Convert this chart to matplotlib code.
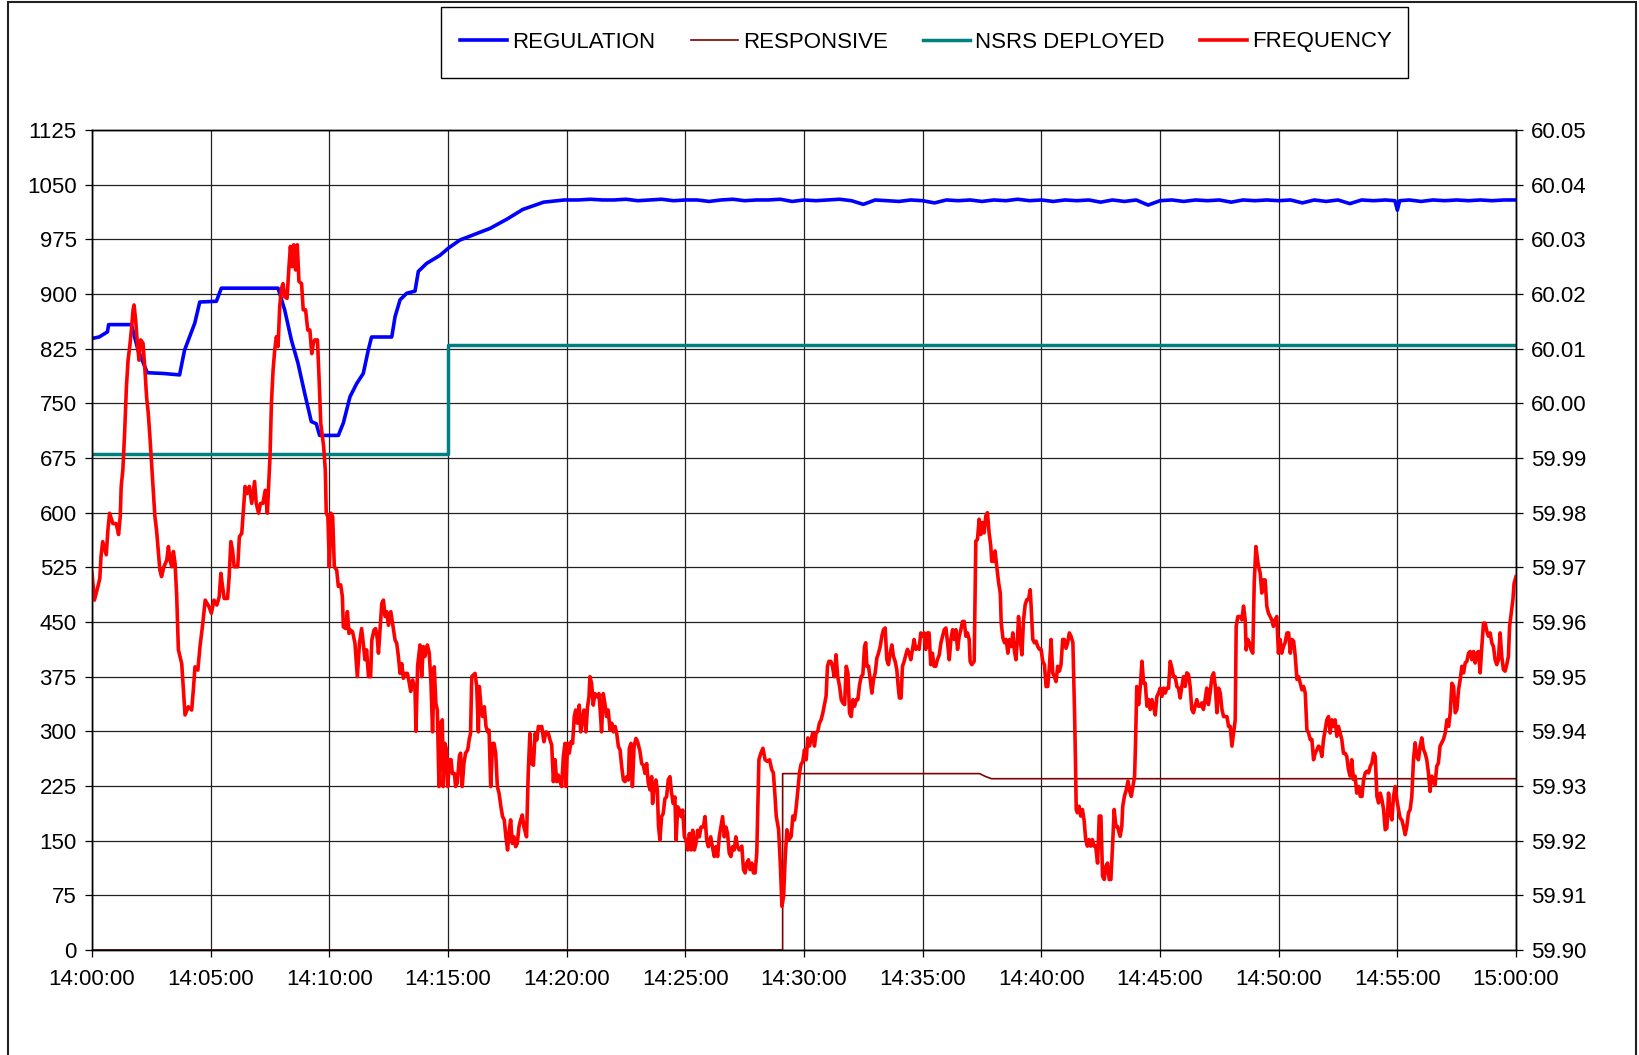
import matplotlib
matplotlib.use("Agg")
import matplotlib.pyplot as plt
from matplotlib.patches import Rectangle
from matplotlib.lines import Line2D

plt.rcParams["font.family"] = ["Liberation Sans", "DejaVu Sans"]

# minutes after 14:00
x_ticks = [0, 5, 10, 15, 20, 25, 30, 35, 40, 45, 50, 55, 60]
x_labels = ["14:00:00", "14:05:00", "14:10:00", "14:15:00", "14:20:00", "14:25:00", "14:30:00",
            "14:35:00", "14:40:00", "14:45:00", "14:50:00", "14:55:00", "15:00:00"]
mw_ticks = list(range(0, 1126, 75))
hz_ticks = [59.90, 59.91, 59.92, 59.93, 59.94, 59.95, 59.96, 59.97, 59.98, 59.99,
            60.00, 60.01, 60.02, 60.03, 60.04, 60.05]

# REGULATION (MW)
reg_t = [0, 0.3, 0.5, 0.65, 0.7, 1.66, 1.94, 2.33, 3.0, 3.69, 3.9, 4.33, 4.54, 5.24, 5.45, 7.84,
         8.12, 8.4, 8.68, 8.96, 9.24, 9.45, 9.59, 10.38, 10.59, 10.87, 11.15, 11.43, 11.64, 11.78,
         12.63, 12.77, 12.98, 13.26, 13.61, 13.75, 14.1, 14.66, 15.02, 15.5, 16.21, 16.77, 17.5,
         18.15, 19.03, 19.9, 20.5, 21, 21.5, 22, 22.5, 23, 23.5, 24, 24.5, 25, 25.5, 26, 26.5, 27,
         27.5, 28, 28.5, 29, 29.5, 30, 30.5, 31, 31.5, 32, 32.5, 33, 33.5, 34, 34.5, 35, 35.5, 36,
         36.5, 37, 37.5, 38, 38.5, 39, 39.5, 40, 40.5, 41, 41.5, 42, 42.5, 43, 43.5, 44, 44.5, 45,
         45.5, 46, 46.5, 47, 47.5, 48, 48.5, 49, 49.5, 50, 50.5, 51, 51.5, 52, 52.5, 53, 53.5, 54,
         54.5, 54.9, 55.0, 55.1, 55.5, 56, 56.5, 57, 57.5, 58, 58.5, 59, 59.5, 60]
reg_mw = [839, 841, 845, 848, 858, 858, 823, 792, 791, 789, 823, 860, 889, 890, 908, 908,
          878, 837, 805, 764, 725, 722, 706, 706, 723, 759, 777, 791, 823, 841,
          841, 869, 892, 901, 904, 931, 942, 953, 963, 974, 983, 990, 1003,
          1016, 1026, 1029, 1029, 1030, 1029, 1029, 1030, 1028, 1029, 1030, 1028, 1029, 1029, 1027, 1029, 1030,
          1028, 1029, 1029, 1030, 1027, 1029, 1028, 1029, 1030, 1028, 1023, 1029, 1028, 1027, 1029, 1028, 1025, 1029,
          1028, 1029, 1027, 1029, 1028, 1030, 1028, 1029, 1027, 1029, 1028, 1029, 1026, 1029, 1027, 1029, 1022, 1028,
          1029, 1027, 1029, 1028, 1029, 1026, 1029, 1028, 1029, 1028, 1029, 1025, 1029, 1027, 1029, 1024, 1029, 1028,
          1029, 1028, 1015, 1028, 1029, 1027, 1029, 1028, 1029, 1028, 1029, 1028, 1029, 1029]

# RESPONSIVE (MW)
resp_t = [0, 29.1, 29.1, 37.4, 37.65, 37.9, 60]
resp_mw = [0, 0, 242, 242, 238, 235, 235]

# NSRS DEPLOYED (MW)
nsrs_t = [0, 15.02, 15.02, 60]
nsrs_mw = [680, 680, 830, 830]

# FREQUENCY (Hz)
freq_t = [
    0.00, 0.10, 0.25, 0.33, 0.38, 0.45, 0.60, 0.67, 0.74, 0.88, 1.02, 1.12, 1.19, 1.23, 1.30, 1.38,
    1.45, 1.52, 1.59, 1.66, 1.73, 1.77, 1.84, 1.90, 1.98, 2.05, 2.15, 2.23, 2.30, 2.37, 2.44, 2.51,
    2.58, 2.65, 2.72, 2.79, 2.86, 2.93, 3.03, 3.15, 3.22, 3.29, 3.36, 3.43, 3.50, 3.57, 3.64, 3.78,
    3.85, 3.92, 4.06, 4.20, 4.27, 4.34, 4.46, 4.55, 4.67, 4.77, 4.93, 5.03, 5.14, 5.26, 5.36, 5.43,
    5.50, 5.57, 5.71, 5.78, 5.85, 5.92, 5.99, 6.14, 6.21, 6.31, 6.38, 6.45, 6.53, 6.63, 6.73, 6.85,
    6.92, 7.02, 7.10, 7.20, 7.30, 7.39, 7.44, 7.50, 7.56, 7.63, 7.70, 7.77, 7.84, 7.91, 7.98, 8.05,
    8.12, 8.22, 8.29, 8.36, 8.43, 8.50, 8.58, 8.65, 8.72, 8.83, 8.90, 9.00, 9.09, 9.18, 9.26, 9.33,
    9.39, 9.50, 9.57, 9.64, 9.76, 9.83, 9.87, 9.94, 10.00, 10.07, 10.14, 10.21, 10.31, 10.38, 10.48,
    10.55, 10.59, 10.69, 10.76, 10.83, 10.90, 10.98, 11.08, 11.18, 11.27, 11.36, 11.43, 11.50, 11.57,
    11.65, 11.74, 11.79, 11.88, 11.95, 12.02, 12.07, 12.14, 12.21, 12.28, 12.35, 12.42, 12.49, 12.59,
    12.70, 12.77, 12.84, 12.91, 12.98, 13.05, 13.12, 13.19, 13.29, 13.37, 13.43, 13.51, 13.61, 13.65,
    13.72, 13.82, 13.89, 13.96, 14.03, 14.13, 14.21, 14.28, 14.35, 14.42, 14.49, 14.55, 14.62, 14.69,
    14.76, 14.80, 14.87, 14.94, 14.99, 15.06, 15.13, 15.18, 15.27, 15.32, 15.39, 15.48, 15.53, 15.60,
    15.67, 15.74, 15.83, 15.90, 15.95, 16.00, 16.07, 16.14, 16.21, 16.28, 16.32, 16.39, 16.46, 16.53,
    16.60, 16.67, 16.73, 16.80, 16.88, 16.94, 17.01, 17.08, 17.15, 17.23, 17.30, 17.37, 17.44, 17.51,
    17.58, 17.64, 17.71, 17.78, 17.85, 17.92, 17.99, 18.06, 18.13, 18.20, 18.31, 18.38, 18.45, 18.52,
    18.60, 18.67, 18.74, 18.81, 18.88, 18.95, 19.04, 19.13, 19.23, 19.30, 19.37, 19.44, 19.51, 19.58,
    19.65, 19.72, 19.79, 19.86, 19.93, 19.97, 20.04, 20.11, 20.18, 20.25, 20.32, 20.38, 20.45, 20.53,
    20.59, 20.66, 20.73, 20.81, 20.88, 20.94, 20.98, 21.05, 21.12, 21.19, 21.29, 21.36, 21.43, 21.47,
    21.54, 21.61, 21.68, 21.75, 21.83, 21.90, 21.97, 22.04, 22.11, 22.18, 22.25, 22.32, 22.39, 22.46,
    22.53, 22.60, 22.64, 22.71, 22.77, 22.84, 22.92, 22.99, 23.09, 23.16, 23.23, 23.30, 23.37, 23.44,
    23.51, 23.58, 23.62, 23.69, 23.76, 23.82, 23.87, 23.93, 24.00, 24.07, 24.14, 24.21, 24.28, 24.35,
    24.42, 24.49, 24.56, 24.61, 24.68, 24.75, 24.82, 24.89, 24.96, 25.03, 25.10, 25.17, 25.24, 25.31,
    25.38, 25.45, 25.52, 25.59, 25.66, 25.76, 25.83, 25.90, 25.97, 26.07, 26.14, 26.22, 26.29, 26.36,
    26.43, 26.50, 26.57, 26.64, 26.71, 26.78, 26.85, 26.92, 26.99, 27.06, 27.13, 27.20, 27.27, 27.38,
    27.45, 27.52, 27.59, 27.66, 27.73, 27.80, 27.87, 27.94, 28.01, 28.05, 28.10, 28.18, 28.27, 28.36,
    28.46, 28.55, 28.64, 28.71, 28.78, 28.83, 28.93, 29.00, 29.07, 29.14, 29.21, 29.28, 29.37, 29.46,
    29.53, 29.60, 29.66, 29.73, 29.81, 29.87, 29.95, 30.02, 30.09, 30.16, 30.23, 30.30, 30.37, 30.44,
    30.51, 30.58, 30.65, 30.72, 30.79, 30.86, 30.93, 30.99, 31.05, 31.13, 31.20, 31.27, 31.35, 31.42,
    31.50, 31.57, 31.64, 31.71, 31.78, 31.85, 31.92, 31.99, 32.06, 32.13, 32.20, 32.27, 32.34, 32.41,
    32.48, 32.55, 32.60, 32.65, 32.72, 32.79, 32.86, 32.93, 33.00, 33.07, 33.14, 33.21, 33.28, 33.35,
    33.42, 33.49, 33.56, 33.63, 33.70, 33.77, 33.84, 33.91, 33.97, 34.02, 34.09, 34.15, 34.22, 34.29,
    34.36, 34.43, 34.50, 34.57, 34.64, 34.71, 34.78, 34.85, 34.92, 34.99, 35.06, 35.13, 35.20, 35.27,
    35.34, 35.41, 35.48, 35.55, 35.62, 35.70, 35.77, 35.84, 35.91, 35.98, 36.05, 36.12, 36.19, 36.26,
    36.33, 36.40, 36.47, 36.54, 36.61, 36.68, 36.75, 36.82, 36.89, 36.96, 37.00, 37.07, 37.17, 37.24,
    37.31, 37.38, 37.45, 37.52, 37.59, 37.66, 37.73, 37.80, 37.87, 37.91, 37.98, 38.05, 38.12, 38.20,
    38.27, 38.31, 38.38, 38.45, 38.52, 38.59, 38.66, 38.73, 38.80, 38.87, 38.93, 39.00, 39.04, 39.11,
    39.18, 39.25, 39.32, 39.39, 39.46, 39.53, 39.57, 39.64, 39.71, 39.78, 39.85, 39.92, 39.99, 40.06,
    40.13, 40.20, 40.27, 40.34, 40.41, 40.48, 40.55, 40.62, 40.69, 40.76, 40.83, 40.90, 40.97, 41.04,
    41.11, 41.18, 41.25, 41.33, 41.40, 41.44, 41.47, 41.52, 41.59, 41.66, 41.73, 41.80, 41.87, 41.94,
    42.01, 42.08, 42.15, 42.22, 42.29, 42.37, 42.44, 42.51, 42.58, 42.65, 42.72, 42.79, 42.86, 42.93,
    43.00, 43.07, 43.14, 43.21, 43.28, 43.32, 43.39, 43.43, 43.50, 43.58, 43.65, 43.72, 43.79, 43.86,
    43.93, 43.97, 44.02, 44.10, 44.17, 44.24, 44.31, 44.38, 44.45, 44.52, 44.59, 44.66, 44.73, 44.80,
    44.87, 44.94, 45.01, 45.08, 45.15, 45.22, 45.29, 45.36, 45.43, 45.50, 45.57, 45.64, 45.71, 45.78,
    45.85, 45.92, 45.99, 46.06, 46.13, 46.20, 46.27, 46.34, 46.41, 46.48, 46.55, 46.62, 46.69, 46.76,
    46.83, 46.90, 46.97, 47.04, 47.11, 47.19, 47.26, 47.33, 47.40, 47.47, 47.54, 47.61, 47.68, 47.75,
    47.82, 47.89, 47.96, 48.03, 48.10, 48.17, 48.21, 48.28, 48.38, 48.45, 48.52, 48.59, 48.63, 48.70,
    48.77, 48.84, 48.91, 48.97, 49.04, 49.11, 49.15, 49.22, 49.29, 49.36, 49.43, 49.50, 49.57, 49.64,
    49.71, 49.78, 49.85, 49.92, 49.99, 50.06, 50.13, 50.20, 50.27, 50.35, 50.42, 50.49, 50.56, 50.63,
    50.70, 50.77, 50.84, 50.91, 50.98, 51.05, 51.12, 51.19, 51.26, 51.33, 51.40, 51.47, 51.54, 51.61,
    51.68, 51.75, 51.82, 51.89, 51.96, 52.03, 52.10, 52.17, 52.24, 52.31, 52.38, 52.45, 52.52, 52.59,
    52.66, 52.73, 52.80, 52.87, 52.94, 53.01, 53.08, 53.15, 53.22, 53.29, 53.37, 53.44, 53.51, 53.58,
    53.65, 53.72, 53.79, 53.86, 53.93, 54.00, 54.07, 54.14, 54.21, 54.28, 54.35, 54.42, 54.49, 54.56,
    54.63, 54.70, 54.77, 54.84, 54.91, 54.98, 55.05, 55.12, 55.19, 55.26, 55.33, 55.40, 55.47, 55.54,
    55.61, 55.68, 55.75, 55.82, 55.89, 55.96, 56.03, 56.10, 56.17, 56.24, 56.31, 56.38, 56.45, 56.52,
    56.59, 56.66, 56.73, 56.80, 56.87, 56.94, 57.02, 57.09, 57.16, 57.23, 57.30, 57.37, 57.44, 57.51,
    57.58, 57.65, 57.72, 57.79, 57.86, 57.93, 58.00, 58.07, 58.14, 58.21, 58.28, 58.35, 58.42, 58.49,
    58.56, 58.63, 58.70, 58.77, 58.84, 58.91, 58.98, 59.05, 59.12, 59.19, 59.26, 59.33, 59.40, 59.47,
    59.54, 59.61, 59.68, 59.73, 59.80, 59.87, 59.92, 60.00]
freq_hz = [
    59.9690, 59.9640, 59.9665, 59.9680, 59.9720, 59.9747, 59.9723, 59.9768, 59.9799, 59.9780, 59.9780, 59.9760, 59.9793, 59.9848, 59.9878, 59.9951,
    60.0030, 60.0079, 60.0104, 60.0134, 60.0171, 60.0180, 60.0152, 60.0116, 60.0079, 60.0116, 60.0110, 60.0061, 60.0012, 59.9982, 59.9939, 59.9890,
    59.9841, 59.9793, 59.9768, 59.9732, 59.9695, 59.9683, 59.9701, 59.9713, 59.9738, 59.9713, 59.9701, 59.9729, 59.9707, 59.9646, 59.9549, 59.9524,
    59.9476, 59.9430, 59.9445, 59.9439, 59.9476, 59.9518, 59.9512, 59.9555, 59.9598, 59.9640, 59.9628, 59.9616, 59.9640, 59.9631, 59.9646, 59.9689,
    59.9665, 59.9643, 59.9643, 59.9683, 59.9747, 59.9732, 59.9701, 59.9701, 59.9756, 59.9762, 59.9805, 59.9848, 59.9835, 59.9848, 59.9817, 59.9857,
    59.9817, 59.9799, 59.9817, 59.9817, 59.9841, 59.9799, 59.9848, 59.9902, 60.0000, 60.0061, 60.0098, 60.0122, 60.0104, 60.0177, 60.0210, 60.0219,
    60.0195, 60.0192, 60.0244, 60.0287, 60.0250, 60.0290, 60.0244, 60.0290, 60.0223, 60.0219, 60.0171, 60.0171, 60.0134, 60.0134, 60.0091, 60.0110,
    60.0116, 60.0116, 60.0043, 59.9963, 59.9921, 59.9878, 59.9799, 59.9793, 59.9701, 59.9799, 59.9793, 59.9701, 59.9695, 59.9665, 59.9668,
    59.9646, 59.9591, 59.9588, 59.9619, 59.9579, 59.9585, 59.9582, 59.9561, 59.9500, 59.9561, 59.9588, 59.9561, 59.9531, 59.9549,
    59.9500, 59.9500, 59.9567, 59.9585, 59.9588, 59.9570, 59.9543, 59.9588, 59.9634, 59.9640, 59.9610, 59.9619, 59.9594, 59.9619,
    59.9588, 59.9567, 59.9561, 59.9537, 59.9506, 59.9524, 59.9497, 59.9506, 59.9506, 59.9488, 59.9473, 59.9494, 59.9476, 59.9400,
    59.9520, 59.9558, 59.9500, 59.9555, 59.9537, 59.9558, 59.9543, 59.9491, 59.9399, 59.9518, 59.9451, 59.9439, 59.9299, 59.9415,
    59.9421, 59.9299, 59.9378, 59.9366, 59.9299, 59.9348, 59.9348, 59.9323, 59.9323, 59.9299, 59.9305, 59.9354, 59.9360, 59.9299,
    59.9341, 59.9360, 59.9366, 59.9387, 59.9396, 59.9500, 59.9503, 59.9506, 59.9482, 59.9399, 59.9482, 59.9445, 59.9427, 59.9445,
    59.9409, 59.9399, 59.9402, 59.9299, 59.9378, 59.9378, 59.9360, 59.9299, 59.9287, 59.9262, 59.9244, 59.9238, 59.9207, 59.9183,
    59.9219, 59.9238, 59.9195, 59.9207, 59.9189, 59.9195, 59.9225, 59.9238, 59.9247, 59.9225, 59.9207, 59.9323, 59.9396, 59.9341,
    59.9338, 59.9396, 59.9384, 59.9409, 59.9406, 59.9409, 59.9381, 59.9399, 59.9396, 59.9384, 59.9375, 59.9308, 59.9348, 59.9308,
    59.9320, 59.9308, 59.9299, 59.9354, 59.9378, 59.9299, 59.9378, 59.9360, 59.9381, 59.9378, 59.9427, 59.9439, 59.9415, 59.9448,
    59.9399, 59.9421, 59.9439, 59.9399, 59.9445, 59.9463, 59.9500, 59.9488, 59.9448, 59.9469, 59.9463, 59.9469, 59.9427, 59.9399,
    59.9469, 59.9451, 59.9427, 59.9439, 59.9402, 59.9415, 59.9399, 59.9409, 59.9396, 59.9372, 59.9366, 59.9335, 59.9311, 59.9308,
    59.9317, 59.9311, 59.9369, 59.9378, 59.9299, 59.9372, 59.9387, 59.9381, 59.9363, 59.9341, 59.9338, 59.9323, 59.9341, 59.9305,
    59.9293, 59.9317, 59.9268, 59.9299, 59.9311, 59.9293, 59.9226, 59.9201, 59.9244, 59.9250, 59.9277, 59.9280, 59.9311, 59.9317,
    59.9287, 59.9268, 59.9280, 59.9201, 59.9262, 59.9256, 59.9244, 59.9256, 59.9207, 59.9201, 59.9183, 59.9213, 59.9183, 59.9219,
    59.9183, 59.9195, 59.9219, 59.9207, 59.9225, 59.9225, 59.9244, 59.9201, 59.9189, 59.9207, 59.9189, 59.9171, 59.9189, 59.9171,
    59.9207, 59.9225, 59.9244, 59.9207, 59.9225, 59.9213, 59.9177, 59.9171, 59.9189, 59.9183, 59.9207, 59.9189, 59.9183, 59.9190,
    59.9147, 59.9141, 59.9159, 59.9165, 59.9147, 59.9159, 59.9141, 59.9141, 59.9177, 59.9251, 59.9348, 59.9360, 59.9369, 59.9348,
    59.9345, 59.9348, 59.9330, 59.9324, 59.9281, 59.9245, 59.9220, 59.9159, 59.9080, 59.9098, 59.9171, 59.9220, 59.9202, 59.9208,
    59.9245, 59.9238, 59.9257, 59.9287, 59.9324, 59.9339, 59.9345, 59.9366, 59.9348, 59.9388, 59.9373, 59.9385, 59.9397, 59.9373,
    59.9397, 59.9400, 59.9415, 59.9421, 59.9433, 59.9449, 59.9464, 59.9519, 59.9528, 59.9528, 59.9519, 59.9500, 59.9540, 59.9500,
    59.9482, 59.9458, 59.9452, 59.9449, 59.9519, 59.9507, 59.9433, 59.9427, 59.9458, 59.9446, 59.9458, 59.9458, 59.9485, 59.9500,
    59.9504, 59.9555, 59.9562, 59.9519, 59.9519, 59.9495, 59.9470, 59.9495, 59.9507, 59.9534, 59.9543, 59.9555, 59.9574, 59.9586,
    59.9589, 59.9531, 59.9522, 59.9543, 59.9558, 59.9537, 59.9528, 59.9513, 59.9482, 59.9461, 59.9461, 59.9519, 59.9528, 59.9540,
    59.9550, 59.9543, 59.9531, 59.9550, 59.9568, 59.9550, 59.9555, 59.9550, 59.9580, 59.9574, 59.9580, 59.9550, 59.9580, 59.9580,
    59.9522, 59.9543, 59.9519, 59.9519, 59.9531, 59.9540, 59.9562, 59.9574, 59.9586, 59.9589, 59.9562, 59.9531, 59.9568, 59.9586,
    59.9568, 59.9586, 59.9550, 59.9574, 59.9586, 59.9601, 59.9601, 59.9574, 59.9580, 59.9568, 59.9528, 59.9522, 59.9528, 59.9748,
    59.9751, 59.9788, 59.9760, 59.9782, 59.9763, 59.9794, 59.9800, 59.9763, 59.9739, 59.9711, 59.9711, 59.9730, 59.9702, 59.9672,
    59.9653, 59.9598, 59.9571, 59.9562, 59.9568, 59.9543, 59.9568, 59.9555, 59.9580, 59.9546, 59.9531, 59.9574, 59.9610, 59.9568,
    59.9540, 59.9604, 59.9632, 59.9641, 59.9641, 59.9659, 59.9629, 59.9568, 59.9562, 59.9565, 59.9555, 59.9550, 59.9550, 59.9528,
    59.9522, 59.9482, 59.9482, 59.9519, 59.9568, 59.9507, 59.9500, 59.9491, 59.9519, 59.9510, 59.9522, 59.9568, 59.9568, 59.9552,
    59.9562, 59.9580, 59.9574, 59.9562, 59.9434, 59.9342, 59.9257, 59.9251, 59.9263, 59.9245, 59.9257, 59.9238, 59.9202, 59.9190,
    59.9202, 59.9190, 59.9202, 59.9190, 59.9190, 59.9159, 59.9245, 59.9245, 59.9135, 59.9129, 59.9153, 59.9159, 59.9129, 59.9129,
    59.9190, 59.9257, 59.9226, 59.9226, 59.9214, 59.9208, 59.9226, 59.9263, 59.9281, 59.9293, 59.9309, 59.9291, 59.9281, 59.9299,
    59.9318, 59.9379, 59.9482, 59.9449, 59.9482, 59.9528, 59.9488, 59.9488, 59.9446, 59.9458, 59.9440, 59.9458, 59.9446, 59.9430,
    59.9464, 59.9470, 59.9479, 59.9464, 59.9479, 59.9470, 59.9479, 59.9479, 59.9528, 59.9516, 59.9500, 59.9500, 59.9482, 59.9479,
    59.9461, 59.9482, 59.9500, 59.9482, 59.9507, 59.9504, 59.9482, 59.9440, 59.9434, 59.9446, 59.9458, 59.9446, 59.9446, 59.9452,
    59.9440, 59.9458, 59.9479, 59.9449, 59.9470, 59.9500, 59.9507, 59.9482, 59.9434, 59.9479, 59.9470, 59.9440, 59.9427, 59.9427,
    59.9427, 59.9409, 59.9409, 59.9373, 59.9397, 59.9421, 59.9592, 59.9610, 59.9610, 59.9604, 59.9629, 59.9604, 59.9549, 59.9568,
    59.9562, 59.9549, 59.9543, 59.9671, 59.9738, 59.9714, 59.9702, 59.9690, 59.9653, 59.9677, 59.9677, 59.9629, 59.9616, 59.9610,
    59.9604, 59.9592, 59.9604, 59.9610, 59.9543, 59.9568, 59.9543, 59.9555, 59.9562, 59.9580, 59.9580, 59.9543, 59.9568, 59.9565,
    59.9537, 59.9495, 59.9500, 59.9488, 59.9476, 59.9482, 59.9470, 59.9403, 59.9397, 59.9385, 59.9385, 59.9348, 59.9360, 59.9366,
    59.9373, 59.9370, 59.9354, 59.9385, 59.9403, 59.9421, 59.9427, 59.9397, 59.9421, 59.9409, 59.9421, 59.9391, 59.9409, 59.9397,
    59.9385, 59.9360, 59.9360, 59.9354, 59.9330, 59.9318, 59.9348, 59.9312, 59.9318, 59.9287, 59.9299, 59.9281, 59.9281, 59.9312,
    59.9324, 59.9327, 59.9324, 59.9336, 59.9342, 59.9360, 59.9354, 59.9281, 59.9269, 59.9287, 59.9275, 59.9257, 59.9220, 59.9223,
    59.9287, 59.9251, 59.9238, 59.9281, 59.9299, 59.9275, 59.9257, 59.9241, 59.9238, 59.9226, 59.9211, 59.9226, 59.9251, 59.9257,
    59.9281, 59.9348, 59.9379, 59.9354, 59.9348, 59.9373, 59.9388, 59.9367, 59.9360, 59.9348, 59.9324, 59.9290, 59.9318, 59.9312,
    59.9302, 59.9336, 59.9342, 59.9373, 59.9379, 59.9385, 59.9397, 59.9421, 59.9409, 59.9434, 59.9488, 59.9482, 59.9434, 59.9440,
    59.9476, 59.9495, 59.9519, 59.9507, 59.9525, 59.9528, 59.9543, 59.9546, 59.9531, 59.9546, 59.9525, 59.9543, 59.9546, 59.9507,
    59.9555, 59.9598, 59.9598, 59.9583, 59.9574, 59.9580, 59.9562, 59.9555, 59.9531, 59.9522, 59.9531, 59.9580, 59.9537, 59.9513,
    59.9510, 59.9522, 59.9537, 59.9592, 59.9616, 59.9641, 59.9671, 59.9683]

W, H = 1639, 1055
FS = 16
fig = plt.figure(figsize=(W / 100, H / 100), dpi=100)
fig.patch.set_facecolor("white")

# chart-area border (bottom edge falls outside the image)
fig.patches.append(Rectangle((8 / W, -0.05), (1636 - 8) / W, 1.05 - 1.5 / H,
                             transform=fig.transFigure, fill=False,
                             edgecolor="#222222", linewidth=1.5))

ax = fig.add_axes([92 / W, 1 - 950 / H, (1516 - 92) / W, (950 - 130) / H])
ax2 = ax.twinx()

ax.plot(reg_t, reg_mw, color="#0000FF", lw=2.6, solid_joinstyle="round")
ax.plot(resp_t, resp_mw, color="#800000", lw=1.2)
ax.plot(nsrs_t, nsrs_mw, color="#008080", lw=2.5)
ax2.plot(freq_t, freq_hz, color="#FF0000", lw=2.6, solid_joinstyle="round")

ax.set_xlim(0, 60)
ax.set_ylim(0, 1125)
ax2.set_ylim(59.90, 60.05)

ax.set_xticks(x_ticks)
ax.set_xticklabels(x_labels)
ax.set_yticks(mw_ticks)
ax2.set_yticks(hz_ticks)
ax2.set_yticklabels([f"{v:.2f}" for v in hz_ticks])

ax.grid(True, color="#222222", linewidth=0.9)
ax.set_axisbelow(True)

for a in (ax, ax2):
    for s in a.spines.values():
        s.set_color("black")
        s.set_linewidth(1.0)

ax.tick_params(axis="y", direction="out", length=5, width=0.9, pad=6, labelsize=FS)
ax.tick_params(axis="x", direction="out", length=5, width=0.9, pad=9, labelsize=FS)
ax2.tick_params(axis="y", direction="out", length=5, width=0.9, pad=6, labelsize=FS)

# legend box
fig.patches.append(Rectangle((441 / W, 1 - 78 / H), (1408 - 441) / W, 71 / H,
                             transform=fig.transFigure, facecolor="white",
                             edgecolor="black", linewidth=1.0))
handles = [Line2D([], [], color="#0000FF", lw=2.6),
           Line2D([], [], color="#800000", lw=1.2),
           Line2D([], [], color="#008080", lw=2.5),
           Line2D([], [], color="#FF0000", lw=2.6)]
labels = ["REGULATION", "RESPONSIVE", "NSRS DEPLOYED", "FREQUENCY"]
fig.legend(handles, labels, loc="center", bbox_to_anchor=(926 / W, 1 - 42 / H),
           ncol=4, frameon=False, fontsize=FS, handlelength=2.12,
           handletextpad=0.22, columnspacing=1.6, borderaxespad=0)

fig.savefig("out.png", dpi=100, facecolor="white")
